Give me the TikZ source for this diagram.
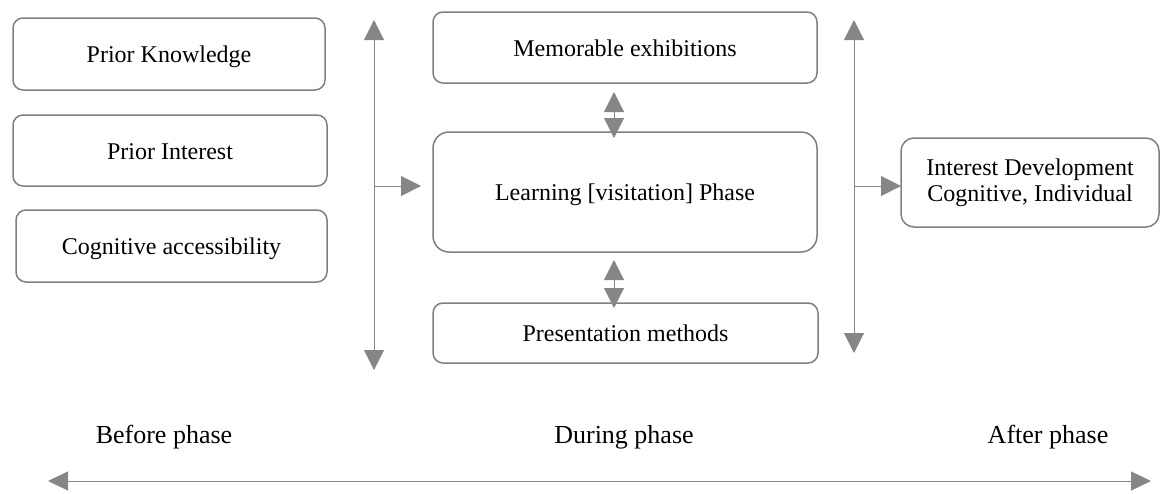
\documentclass[tikz,border=0pt]{standalone}
\usepackage{fontspec}
\setmainfont{Liberation Serif}
\usetikzlibrary{arrows.meta}
\definecolor{boxgray}{HTML}{7F7F7F}
\definecolor{arrgray}{HTML}{868686}
\tikzset{
  basebox/.style={draw=boxgray, line width=1.5pt, rounded corners=10pt, inner sep=0pt,
    font=\fontsize{24}{26}\selectfont, align=center},
  box/.style={basebox, text height=17pt, text depth=0pt},
  conn/.style={draw=arrgray, line width=1pt, {Triangle[length=20pt,width=20pt]}-{Triangle[length=20pt,width=20pt]}, arrgray},
  oneway/.style={draw=arrgray, line width=1pt, -{Triangle[length=20pt,width=20pt]}, arrgray},
  phase/.style={font=\fontsize{26}{28}\selectfont, anchor=base, inner sep=0pt}
}
\begin{document}
\begin{tikzpicture}[x=1pt,y=-1pt]
\useasboundingbox (0,0) rectangle (1161,493);
% left column
\node[box, minimum width=312pt, minimum height=72pt] (pk) at (169,54) {Prior Knowledge};
\node[box, minimum width=314pt, minimum height=71pt] (pi) at (170,150.5) {Prior Interest};
\node[box, minimum width=311pt, minimum height=72pt] (ca) at (171.5,246) {Cognitive accessibility};
% middle column
\node[box, minimum width=384pt, minimum height=71pt] (mem) at (625,47.5) {Memorable exhibitions};
\node[box, rounded corners=16pt, minimum width=384pt, minimum height=120pt] (learn) at (625,192) {Learning [visitation] Phase};
\node[box, minimum width=385pt, minimum height=60pt] (pres) at (625.5,333) {Presentation methods};
% right box
\node[basebox, rounded corners=13pt, minimum width=258pt, minimum height=89pt] (intd) at (1030,182.5) {Interest Development\\Cognitive, Individual};
% coordinates
\coordinate (lt) at (374,20);
\coordinate (lb) at (374,370);
\coordinate (lm) at (374,186);
\coordinate (lh) at (421,186);
\coordinate (rt) at (854,20);
\coordinate (rb) at (854,353);
\coordinate (rm) at (854,186);
\coordinate (rh) at (901,186);
\coordinate (m1a) at (614,92);
\coordinate (m1b) at (614,138);
\coordinate (m2a) at (614,260);
\coordinate (m2b) at (614,308);
\coordinate (bl) at (48,481);
\coordinate (br) at (1151,481);
% connectors
\draw[conn] (lt) -- (lb);
\draw[oneway] (lm) -- (lh);
\draw[conn] (rt) -- (rb);
\draw[oneway] (rm) -- (rh);
\draw[conn] (m1a) -- (m1b);
\draw[conn] (m2a) -- (m2b);
\draw[conn, {Triangle[length=20pt,width=19pt]}-{Triangle[length=20pt,width=19pt]}] (bl) -- (br);
% phase labels
\node[phase] (before) at (164,443) {Before phase};
\node[phase] (during) at (624,443) {During phase};
\node[phase] (after) at (1048,443) {After phase};
\end{tikzpicture}
\end{document}
